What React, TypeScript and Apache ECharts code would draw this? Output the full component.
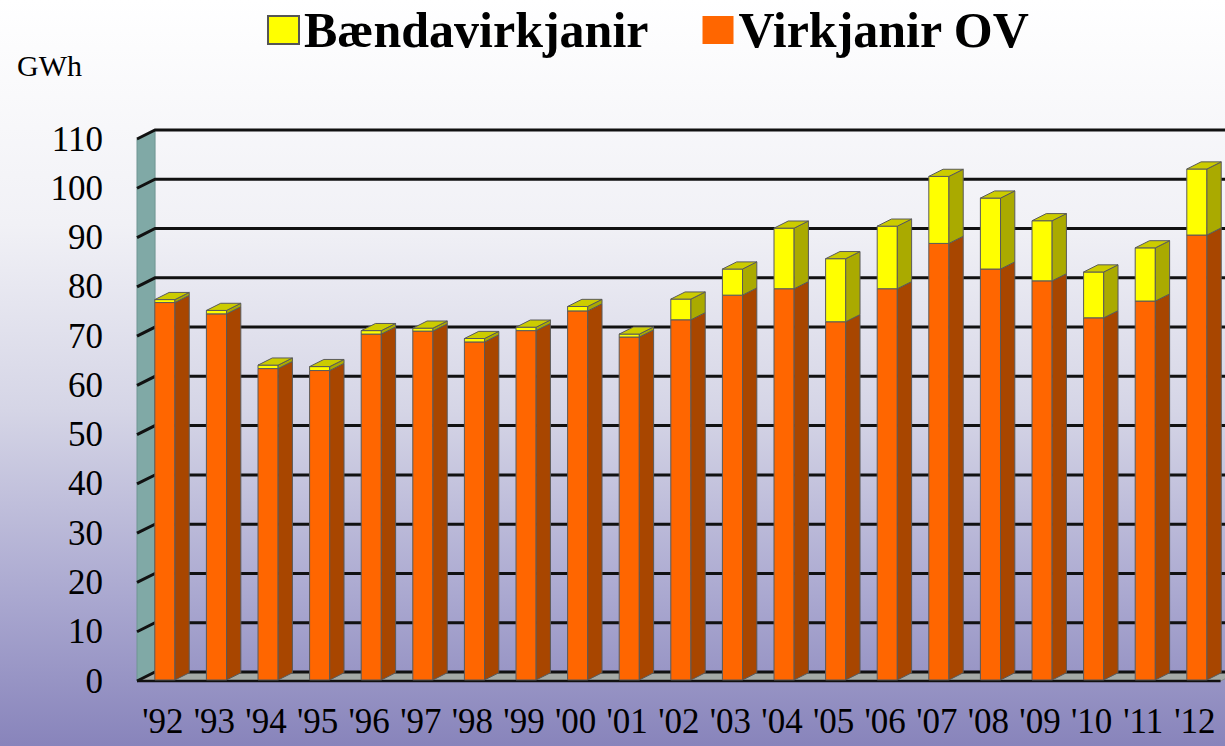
import React, { useEffect, useRef } from "react";
import * as echarts from "echarts";

const CATEGORIES = ["'92", "'93", "'94", "'95", "'96", "'97", "'98", "'99", "'00", "'01", "'02", "'03", "'04", "'05", "'06", "'07", "'08", "'09", "'10", "'11", "'12"];
const VIRKJANIR_OV = [76.6, 74.3, 63.2, 62.8, 70.2, 70.8, 68.6, 70.9, 74.9, 69.6, 73.1, 78.1, 79.4, 72.7, 79.4, 88.6, 83.4, 81.0, 73.5, 76.9, 90.3];
const BAENDAVIRKJANIR = [0.6, 0.7, 0.7, 0.8, 0.7, 0.6, 0.7, 0.7, 0.9, 0.6, 4.2, 5.3, 12.3, 12.8, 12.7, 13.6, 14.4, 12.2, 9.3, 10.8, 13.4];
const Y_TICKS = [0, 10, 20, 30, 40, 50, 60, 70, 80, 90, 100, 110];

const NAME_Y = "Bændavirkjanir";
const NAME_O = "Virkjanir OV";
const FONT = "'Liberation Serif', 'Times New Roman', serif";

// proportions relative to category band width
const FRONT_W = 0.39;
const BAR_OFF = 0.04;
const BAR_DEPTH = 0.277;
const FRAME_DEPTH = 0.35;

function barShapes(api: any, i: number, lo: number, hi: number, front: string, side: string, topFill: string | null) {
  const bw = api.size([1, 0])[0];
  const c = api.coord([i, lo]);
  const t = api.coord([i, hi]);
  const off = bw * BAR_OFF;
  const dx = bw * BAR_DEPTH;
  const dy = -dx / 2;
  const fx0 = c[0] - bw * FRONT_W / 2 + off;
  const fx1 = fx0 + bw * FRONT_W;
  const bottom = c[1] - off / 2;
  const top = t[1] - off / 2;
  const stroke = { stroke: "#5a5a5a", lineWidth: 1 };
  const children: any[] = [
    { type: "rect", shape: { x: fx0, y: top, width: fx1 - fx0, height: bottom - top }, style: { fill: front, ...stroke } },
    { type: "polygon", shape: { points: [[fx1, bottom], [fx1, top], [fx1 + dx, top + dy], [fx1 + dx, bottom + dy]] }, style: { fill: side, ...stroke } },
  ];
  if (topFill) {
    children.push({ type: "polygon", shape: { points: [[fx0, top], [fx1, top], [fx1 + dx, top + dy], [fx0 + dx, top + dy]] }, style: { fill: topFill, ...stroke } });
  }
  return { type: "group", children };
}

export default function App() {
  const ref = useRef<HTMLDivElement>(null);
  useEffect(() => {
    if (!ref.current) return;
    const chart = echarts.init(ref.current, null, { renderer: "svg" });
    const n = CATEGORIES.length;
    const option: any = {
      animation: false,
      backgroundColor: {
        type: "linear", x: 0, y: 0, x2: 0, y2: 1,
        colorStops: [
          { offset: 0, color: "#ffffff" },
          { offset: 0.3, color: "#f1f1f6" },
          { offset: 0.55, color: "#d5d5e6" },
          { offset: 0.8, color: "#aaa8d0" },
          { offset: 1, color: "#8884bb" },
        ],
      },
      title: {
        text: "GWh", left: 12, top: 45,
        textStyle: { fontFamily: FONT, fontWeight: "normal", fontSize: 30, color: "#000" },
      },
      legend: {
        left: 262, top: 0, itemWidth: 31, itemHeight: 28, itemGap: 54, icon: "rect",
        textStyle: { fontFamily: FONT, fontWeight: "bold", fontSize: 50, color: "#000" },
        data: [
          { name: NAME_Y, itemStyle: { color: "#ffff00", borderColor: "#555", borderWidth: 2 } },
          { name: NAME_O, itemStyle: { color: "#ff6600", borderWidth: 0 } },
        ],
      },
      grid: { left: 137, right: 4.4, top: 139, bottom: 65, containLabel: false },
      xAxis: {
        type: "category", data: CATEGORIES,
        axisLine: { show: false }, axisTick: { show: false }, splitLine: { show: false },
        axisLabel: { interval: 0, margin: 23, fontFamily: FONT, fontSize: 35, color: "#000", hideOverlap: false },
      },
      yAxis: {
        type: "value", min: 0, max: 110, interval: 10,
        axisLine: { show: false }, axisTick: { show: false }, splitLine: { show: false },
        axisLabel: { margin: 34, fontFamily: FONT, fontSize: 35, color: "#000" },
      },
      series: [
        {
          type: "custom", name: "frame", silent: true, z: 1,
          data: Y_TICKS.map((v) => [0, v]),
          encode: { x: 0, y: 1 },
          renderItem: (params: any, api: any) => {
            const v = api.value(1);
            const bw = api.size([1, 0])[0];
            const p = api.coord([0, v]);
            const xL = p[0] - bw / 2;
            const xR = api.coord([n - 1, v])[0] + bw / 2;
            const d = bw * FRAME_DEPTH;
            const yv = p[1];
            const children: any[] = [];
            if (v === 0) {
              const yTop = api.coord([0, Y_TICKS[Y_TICKS.length - 1]])[1];
              children.push({ type: "polygon", shape: { points: [[xL, yv], [xL, yTop], [xL + d, yTop - d / 2], [xL + d, yv - d / 2]] }, style: { fill: "#80a9a6", stroke: "#6f9593", lineWidth: 1 } });
              children.push({ type: "polygon", shape: { points: [[xL, yv], [xL + d, yv - d / 2], [xR + d, yv - d / 2], [xR, yv]] }, style: { fill: "#a5aaa6", stroke: "#8a8f8b", lineWidth: 1 } });
              children.push({ type: "line", shape: { x1: xL, y1: yv, x2: xR, y2: yv }, style: { stroke: "#111", lineWidth: 2.5 } });
            }
            children.push({ type: "polyline", shape: { points: [[xL, yv], [xL + d, yv - d / 2], [xR + d, yv - d / 2]] }, style: { stroke: "#111", lineWidth: 3, fill: null } });
            return { type: "group", children };
          },
        },
        {
          type: "custom", name: NAME_O, z: 2,
          itemStyle: { color: "#ff6600" },
          data: VIRKJANIR_OV.map((v, i) => [i, v]),
          encode: { x: 0, y: 1 },
          renderItem: (params: any, api: any) => {
            const i = api.value(0);
            return barShapes(api, i, 0, api.value(1), "#ff6600", "#a84600", null);
          },
        },
        {
          type: "custom", name: NAME_Y, z: 3,
          itemStyle: { color: "#ffff00" },
          data: BAENDAVIRKJANIR.map((v, i) => [i, VIRKJANIR_OV[i] + v, VIRKJANIR_OV[i]]),
          encode: { x: 0, y: 1 },
          renderItem: (params: any, api: any) => {
            const i = api.value(0);
            return barShapes(api, i, api.value(2), api.value(1), "#ffff00", "#aaaa00", "#cccc00");
          },
        },
      ],
    };
    chart.setOption(option);
    return () => chart.dispose();
  }, []);
  return <div ref={ref} style={{ position: "fixed", left: 0, top: 0, width: 1225, height: 746 }} />;
}
